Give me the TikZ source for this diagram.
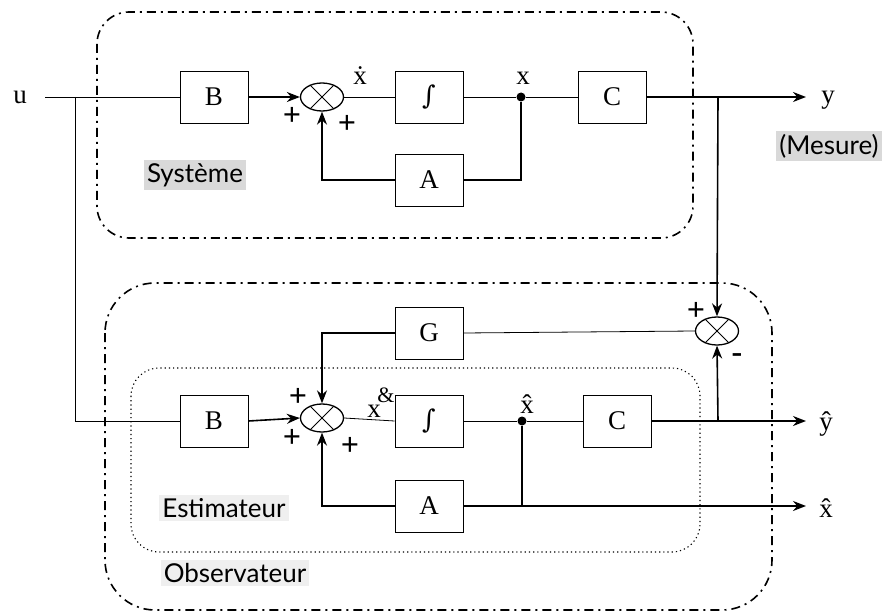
\documentclass[tikz,border=0pt]{standalone}
\usepackage{fontspec}
\setmainfont{Liberation Serif}
\newfontfamily\lab{Lato}
\newfontfamily\intf{DejaVu Serif}
\usetikzlibrary{arrows.meta,shapes.geometric}
\definecolor{bgA}{HTML}{D9D9D9}
\definecolor{bgB}{HTML}{EFEFEF}
\tikzset{
  blk/.style={draw,line width=0.9pt,minimum width=68pt,minimum height=52pt,inner sep=0pt,font=\fontsize{27}{30}\selectfont},
  sumn/.style={ellipse,draw,line width=1.3pt,minimum width=43pt,minimum height=28pt,inner sep=0pt},
  thinl/.style={line width=0.8pt},
  thickl/.style={line width=1.6pt},
  arr/.style={-{Stealth[length=13pt,width=10pt]}},
  sgn/.style={font=\bfseries\fontsize{32}{34}\selectfont,inner sep=0pt},
  var/.style={font=\fontsize{27}{30}\selectfont,inner sep=0pt},
  tag/.style={font=\lab\fontsize{26}{28}\selectfont,inner sep=3pt},
  dashdot/.style={line width=1.6pt,dash pattern=on 9pt off 5pt on 2pt off 5pt},
  dotb/.style={line width=1.1pt,dash pattern=on 1.2pt off 3pt},
  jdot/.style={circle,fill,inner sep=0pt,minimum size=9pt}
}
\begin{document}
\begin{tikzpicture}[x=1pt,y=-1pt]
\useasboundingbox (0,0) rectangle (896,612);
% enclosures
\draw[dashdot,rounded corners=32pt] (97,12) rectangle (693,238);
\draw[dashdot,rounded corners=50pt] (105,283) rectangle (772,610);
\draw[dotb,rounded corners=28pt] (131,368) rectangle (700,552);
% labels
\node[tag,fill=bgA] (sys) at (195,175) {Système};
\node[tag,fill=bgA] (mes) at (829,146) {(Mesure)};
\node[tag,fill=bgB] (est) at (224,508) {Estimateur};
\node[tag,fill=bgB] (obs) at (235,573) {Observateur};
% top row
\node[var] (u) at (20,97) {u};
\coordinate (uin) at (45,97);
\coordinate (j1) at (75,97);
\node[blk] (B1) at (214,97) {B};
\node[sumn] (S1) at (322,97) {};
\node[blk,font=\intf\fontsize{26}{30}\selectfont] (I1) at (429,97) {∫};
\node[jdot] (x1) at (521,97) {};
\node[blk] (C1) at (612,97) {C};
\coordinate (j2) at (718,97);
\coordinate (yend) at (806,97);
\node[var] (ylab) at (828,100) {y};
\node[blk] (A1) at (429,180) {A};
% bottom part
\node[sumn] (S2) at (717,331) {};
\node[blk] (G) at (429,333) {G};
\node[blk] (B2) at (214,421) {B};
\node[sumn] (S3) at (322,418) {};
\node[blk,font=\intf\fontsize{26}{30}\selectfont] (I2) at (429,421) {∫};
\node[jdot] (x2) at (522,421) {};
\node[blk] (C2) at (617,421) {C};
\coordinate (j3) at (718,421);
\coordinate (yhend) at (806,421);
\node[var] (yhlab) at (826,424) {ŷ};
\node[blk] (A2) at (429,506) {A};
\coordinate (xhend) at (806,506);
\node[var] (xhlab) at (826,508) {x̂};
% crosses in sums
\foreach \s in {S1,S2,S3}{
  \draw[line width=1pt] (\s.135) -- (\s.-45);
  \draw[line width=1pt] (\s.45) -- (\s.-135);
}
% variable labels
\node[var] (xd) at (360,76) {ẋ};
\node[var] (xl) at (523,78) {x};
\node[var] (xhl) at (527,404) {x̂};
\node[var] (xg) at (374,411) {x};
\node[font=\fontsize{22}{24}\selectfont,inner sep=0pt] (amp) at (386,395) {\&};
% signs
\node[sgn] (p1) at (292,116) {+};
\node[sgn] (p2) at (347,124) {+};
\node[sgn] (p3) at (298,397) {+};
\node[sgn] (p4) at (292,438) {+};
\node[sgn] (p5) at (350,446) {+};
\node[sgn] (p6) at (696,311) {+};
\node[sgn] (m1) at (737,358) {-};
% connectors top
\draw[thinl] (uin) -- (B1.west);
\draw[thinl] (j1) |- (B2.west);
\draw[thickl,arr] (B1.east) -- (S1.west);
\draw[thinl] (S1.east) -- (I1.west);
\draw[thinl] (I1.east) -- (x1);
\draw[thinl] (x1) -- (C1.west);
\draw[thickl,arr] (C1.east) -- (yend);
\draw[thickl] (x1) |- (A1.east);
\draw[thickl,arr] (A1.west) -| (S1.south);
\draw[thickl,arr] (j2) -- (S2.north);
% connectors bottom
\draw[thinl] (S2.west) -- (G.east);
\draw[thickl,arr] (G.west) -| (S3.north);
\draw[thickl,arr] (B2.east) -- (S3.west);
\draw[thinl] (S3.east) -- (I2.west);
\draw[thinl] (I2.east) -- (x2);
\draw[thinl] (x2) -- (C2.west);
\draw[thickl,arr] (C2.east) -- (yhend);
\draw[thickl,arr] (j3) -- (S2.south);
\draw[thickl] (x2) -- (x2 |- A2.east);
\draw[thickl,arr] (A2.east) -- (xhend);
\draw[thickl,arr] (A2.west) -| (S3.south);
\end{tikzpicture}
\end{document}
